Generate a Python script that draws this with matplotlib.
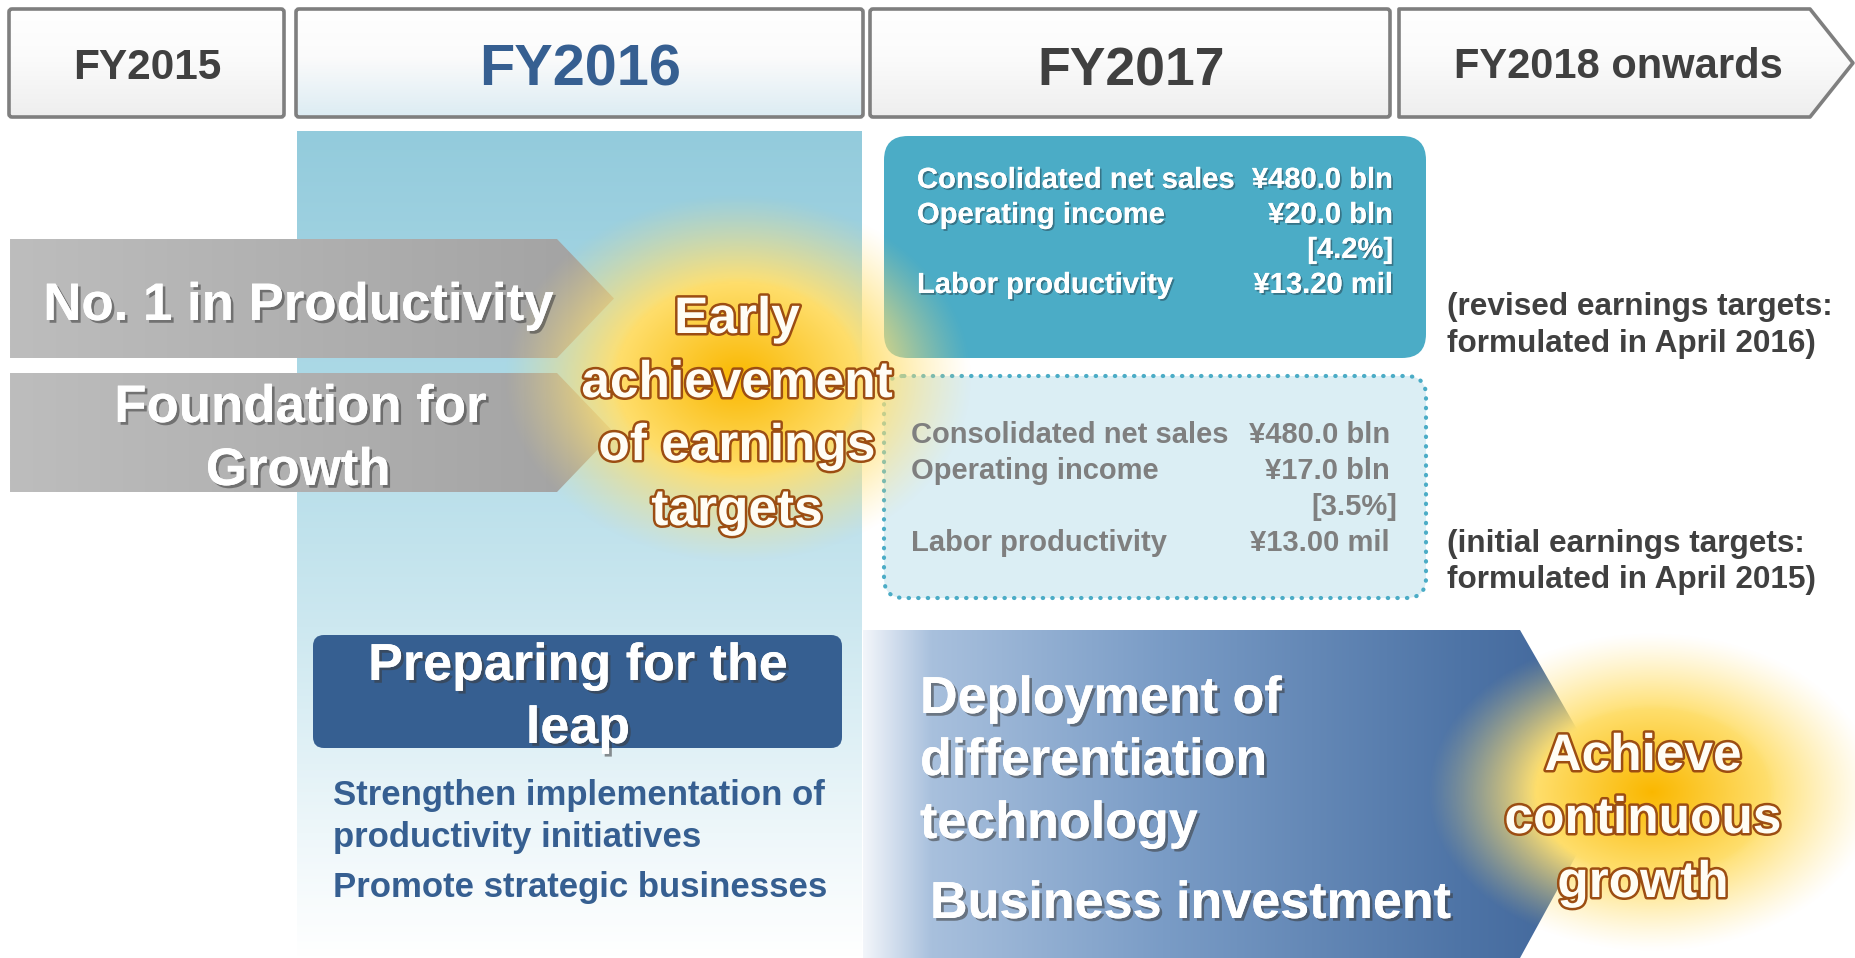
import numpy as np
import matplotlib
matplotlib.use("Agg")
import matplotlib.pyplot as plt
import matplotlib.colors as mcolors
import matplotlib.patheffects as pe
from matplotlib.patches import Polygon, FancyBboxPatch

plt.rcParams['font.family'] = ['Liberation Sans', 'DejaVu Sans']
plt.rcParams['font.weight'] = 'bold'

# texts shown in the diagram
years = ["FY2015", "FY2016", "FY2017", "FY2018 onwards"]
themes = ["No. 1 in Productivity", "Foundation for", "Growth"]
early_goal = ["Early", "achievement", "of earnings", "targets"]
target_items = ["Consolidated net sales", "Operating income", "", "Labor productivity"]
revised_values = ["¥480.0 bln", "¥20.0 bln", "[4.2%]", "¥13.20 mil"]
initial_values = ["¥480.0 bln", "¥17.0 bln", "[3.5%]", "¥13.00 mil"]
revised_note = ["(revised earnings targets:", "formulated in April 2016)"]
initial_note = ["(initial earnings targets:", "formulated in April 2015)"]
leap_title = ["Preparing for the", "leap"]
leap_items = ["Strengthen implementation of", "productivity initiatives",
              "Promote strategic businesses"]
deploy_items = ["Deployment of", "differentiation", "technology"]
invest_item = "Business investment"
growth_goal = ["Achieve", "continuous", "growth"]

W, H = 1855, 958

fig = plt.figure(figsize=(W / 100, H / 100), dpi=100)
ax = fig.add_axes([0, 0, 1, 1])
ax.axis("off")

shadow = [pe.withSimplePatchShadow(offset=(2, -2), shadow_rgbFace="#3a3a3a", alpha=0.55), pe.Normal()]
small_shadow = [pe.withSimplePatchShadow(offset=(1.3, -1.3), shadow_rgbFace="#2a4f5e", alpha=0.6), pe.Normal()]
outline = [pe.Stroke(linewidth=3.6, foreground="#9c4d12"), pe.Normal()]


def gradient(extent, stops, clip, horizontal=False, z=1):
    t = np.linspace(0, 1, 256)
    pos = [s[0] for s in stops]
    cols = np.array([mcolors.to_rgb(s[1]) for s in stops])
    rgb = np.stack([np.interp(t, pos, cols[:, i]) for i in range(3)], axis=-1)
    img = rgb[np.newaxis, :, :] if horizontal else rgb[:, np.newaxis, :]
    x0, x1, y0, y1 = extent
    im = ax.imshow(img, extent=(x0, x1, y1, y0), aspect="auto",
                   interpolation="bilinear", zorder=z)
    im.set_clip_path(clip)


def glow(cx, cy, rx, ry, z=6):
    xs = np.linspace(-1, 1, 300)
    X, Y = np.meshgrid(xs, xs)
    r = np.sqrt(X ** 2 + Y ** 2)
    core = np.array([0.98, 0.72, 0.0])
    edge = np.array([1.0, 0.88, 0.45])
    mix = np.clip(r / 0.55, 0, 1)[..., None]
    rgb = core * (1 - mix) + edge * mix
    alpha = np.clip((1 - r) / 0.48, 0, 1) ** 1.2
    ax.imshow(np.dstack([rgb, alpha]), extent=(cx - rx, cx + rx, cy + ry, cy - ry),
              aspect="auto", interpolation="bilinear", zorder=z)


# ---- header row
header_boxes = [(9, 284), (296, 863), (870, 1390)]
for i, (x0, x1) in enumerate(header_boxes):
    p = FancyBboxPatch((x0, 9), x1 - x0, 108, boxstyle="round,pad=0,rounding_size=3",
                       facecolor="none", edgecolor="#7f7f7f", lw=2.6, zorder=3)
    ax.add_patch(p)
    bottom = "#dcecf3" if i == 1 else "#eeeeee"
    gradient((x0, x1, 9, 117), [(0, "#ffffff"), (0.45, "#fbfbfb"), (1, bottom)], p, z=2)
p = Polygon([(1399, 9), (1810, 9), (1853, 63), (1810, 117), (1399, 117)],
            closed=True, facecolor="none", edgecolor="#7f7f7f", lw=2.6, joinstyle="round", zorder=3)
ax.add_patch(p)
gradient((1399, 1855, 9, 117), [(0, "#ffffff"), (0.45, "#fbfbfb"), (1, "#eeeeee")], p, z=2)

ax.text(147, 79, years[0], ha="center", va="baseline", fontsize=30.5, color="#404040", zorder=4)
ax.text(580, 85, years[1], ha="center", va="baseline", fontsize=41.5, color="#365f91", zorder=4)
ax.text(1131, 85, years[2], ha="center", va="baseline", fontsize=38.5, color="#404040", zorder=4)
ax.text(1618, 78, years[3], ha="center", va="baseline", fontsize=30, color="#404040", zorder=4)

# ---- FY2016 column
col = FancyBboxPatch((297, 131), 565, 827, boxstyle="square,pad=0", facecolor="none", lw=0, zorder=1)
ax.add_patch(col)
gradient((297, 862, 131, 958), [(0, "#93cbdc"), (0.3, "#acd9e6"), (0.6, "#cde8f0"),
                                 (0.85, "#eef7fa"), (1, "#ffffff")], col, z=1)

# ---- grey theme arrows
for y0, y1 in [(239, 358), (373, 492)]:
    ym = (y0 + y1) / 2
    p = Polygon([(10, y0), (557, y0), (614, ym), (557, y1), (10, y1)],
                closed=True, facecolor="none", lw=0, zorder=2)
    ax.add_patch(p)
    gradient((10, 614, y0, y1), [(0, "#bdbdbd"), (1, "#a2a2a2")], p, horizontal=True, z=2)

ax.text(298, 320, themes[0], ha="center", va="baseline", fontsize=38, color="white",
        path_effects=shadow, zorder=8)
ax.text(300, 422, themes[1], ha="center", va="baseline", fontsize=38, color="white",
        path_effects=shadow, zorder=8)
ax.text(298, 485, themes[2], ha="center", va="baseline", fontsize=38, color="white",
        path_effects=shadow, zorder=8)

# ---- FY2017 target boxes
teal = FancyBboxPatch((884, 136), 542, 222, boxstyle="round,pad=0,rounding_size=24",
                      facecolor="#4bacc6", edgecolor="none", zorder=3)
ax.add_patch(teal)
dotted = FancyBboxPatch((884, 376), 542, 222, boxstyle="round,pad=0,rounding_size=20",
                        facecolor="#dbeef4", edgecolor="#4bacc6", lw=3,
                        linestyle=(0, (0.1, 2.2)), zorder=3)
dotted.set_capstyle("round")
ax.add_patch(dotted)

rev_rows = [188, 223, 258, 293]
ini_rows = [443, 479, 515, 551]
for i in range(4):
    if target_items[i]:
        ax.text(917, rev_rows[i], target_items[i], ha="left", va="baseline", fontsize=21,
                color="white", path_effects=small_shadow, zorder=8)
        ax.text(911, ini_rows[i], target_items[i], ha="left", va="baseline", fontsize=21,
                color="#7f7f7f", zorder=8)
    ax.text(1393, rev_rows[i], revised_values[i], ha="right", va="baseline", fontsize=21,
            color="white", path_effects=small_shadow, zorder=8)
    ax.text(1397 if i == 2 else 1390, ini_rows[i], initial_values[i], ha="right",
            va="baseline", fontsize=21, color="#7f7f7f", zorder=8)

for yb, line in zip([315, 352], revised_note):
    ax.text(1447, yb, line, ha="left", va="baseline", fontsize=22.7, color="#404040", zorder=8)
for yb, line in zip([552, 588], initial_note):
    ax.text(1447, yb, line, ha="left", va="baseline", fontsize=22.7, color="#404040", zorder=8)

# ---- Preparing for the leap
leap = FancyBboxPatch((313, 635), 529, 113, boxstyle="round,pad=0,rounding_size=11",
                      facecolor="#365f91", edgecolor="none", zorder=3)
ax.add_patch(leap)
for yb, line in zip([680, 743], leap_title):
    ax.text(578, yb, line, ha="center", va="baseline", fontsize=37.5, color="white",
            path_effects=shadow, zorder=8)
for yb, line in zip([805, 847, 897], leap_items):
    ax.text(333, yb, line, ha="left", va="baseline", fontsize=25, color="#365f91", zorder=8)

# ---- blue chevron FY2017
chev = Polygon([(863, 630), (1520, 630), (1612, 790), (1520, 958), (863, 958)],
               closed=True, facecolor="none", lw=0, zorder=2)
ax.add_patch(chev)
gradient((863, 1612, 630, 958), [(0, "#f2f5fa"), (0.09, "#a8c0dd"), (0.4, "#7a9cc6"),
                                  (0.8, "#4e74a6"), (1, "#3e6398")], chev, horizontal=True, z=2)
for yb, line in zip([713, 775, 838], deploy_items):
    ax.text(920, yb, line, ha="left", va="baseline", fontsize=37.5, color="white",
            path_effects=shadow, zorder=8)
ax.text(930, 918, invest_item, ha="left", va="baseline", fontsize=37.5, color="white",
        path_effects=shadow, zorder=8)

# ---- glows with goals
glow(738, 378, 235, 185)
glow(1652, 792, 225, 160)
for yb, line in zip([333, 397, 460, 525], early_goal):
    ax.text(737, yb, line, ha="center", va="baseline", fontsize=37, color="#fffdf5",
            path_effects=outline, zorder=9)
for yb, line in zip([770, 833, 897], growth_goal):
    ax.text(1643, yb, line, ha="center", va="baseline", fontsize=37, color="#fffdf5",
            path_effects=outline, zorder=9)

ax.set_xlim(0, W)
ax.set_ylim(H, 0)
fig.savefig("out.png", dpi=100, facecolor="white")
